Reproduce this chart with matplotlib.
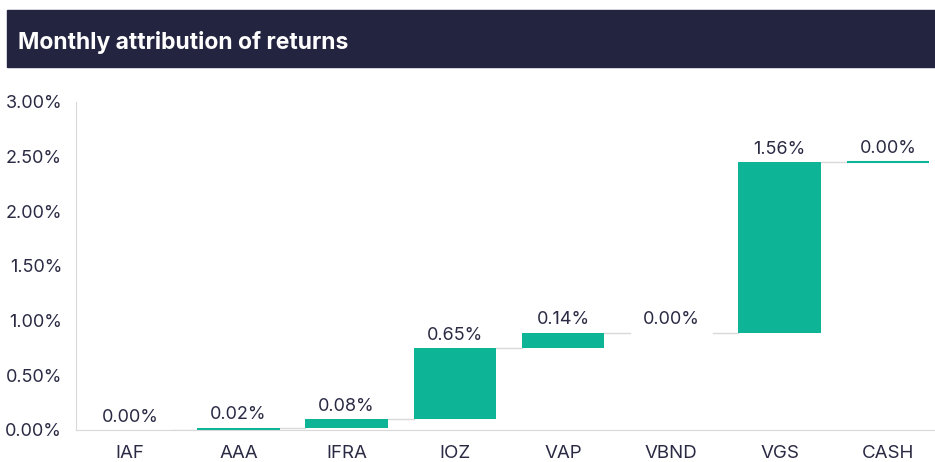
import matplotlib.pyplot as plt
import numpy as np
from matplotlib.patches import Rectangle

# data (percent)
funds = ['IAF', 'AAA', 'IFRA', 'IOZ', 'VAP', 'VBND', 'VGS', 'CASH']
contrib = [0.0, 0.02, 0.08, 0.65, 0.14, 0.0, 1.56, 0.0049]
y_ticks = [0.0, 0.5, 1.0, 1.5, 2.0, 2.5, 3.0]

teal = '#0db496'
navy = '#23243f'
text_col = '#2a2a44'
grey = '#d9d9d9'

plt.rcParams['font.family'] = ['Inter', 'DejaVu Sans']

contrib = np.array(contrib)
ends = np.cumsum(contrib)
starts = ends - contrib
x = np.arange(len(funds))
w = 0.76

fig = plt.figure(figsize=(9.35, 4.62), dpi=100)

# title band
fig.patches.append(Rectangle((7 / 935, 1 - 67 / 462), 1, 57 / 462,
                             transform=fig.transFigure, color=navy, zorder=0))
fig.text(18 / 935, 1 - 42 / 462, 'Monthly attribution of returns', color='white',
         fontsize=16.5, fontweight='bold', va='center', ha='left')

ax = fig.add_axes([76 / 935, 1 - 430 / 462, 866 / 935, 328 / 462])
# tiny non-zero moves still get a visible sliver
edge_w = [1.5 if 0 < c < 0.005 else 0 for c in contrib]
ax.bar(x, contrib, bottom=starts, width=w, color=teal, edgecolor=teal,
       linewidth=edge_w, zorder=3)

# connectors between bars
for i in range(len(funds) - 1):
    ax.plot([x[i] + w / 2, x[i + 1] - w / 2], [ends[i], ends[i]],
            color=grey, lw=1, zorder=2)

for i in range(len(funds)):
    ax.text(x[i], ends[i] + 0.04, f'{contrib[i]:.2f}%', ha='center', va='bottom',
            fontsize=13, color=text_col)

ax.set_xlim(-0.5, len(funds) - 0.5)
ax.set_ylim(0, 3.0)
ax.set_xticks(x)
ax.set_xticklabels(funds)
ax.set_yticks(y_ticks)
ax.set_yticklabels([f'{v:.2f}%' for v in y_ticks])
ax.tick_params(axis='both', length=0, labelsize=13, colors=text_col)
ax.tick_params(axis='x', labelsize=13.5, pad=11)
ax.tick_params(axis='y', pad=10)
for s in ['top', 'right']:
    ax.spines[s].set_visible(False)
for s in ['left', 'bottom']:
    ax.spines[s].set_color(grey)

fig.savefig('out.png', dpi=100)
